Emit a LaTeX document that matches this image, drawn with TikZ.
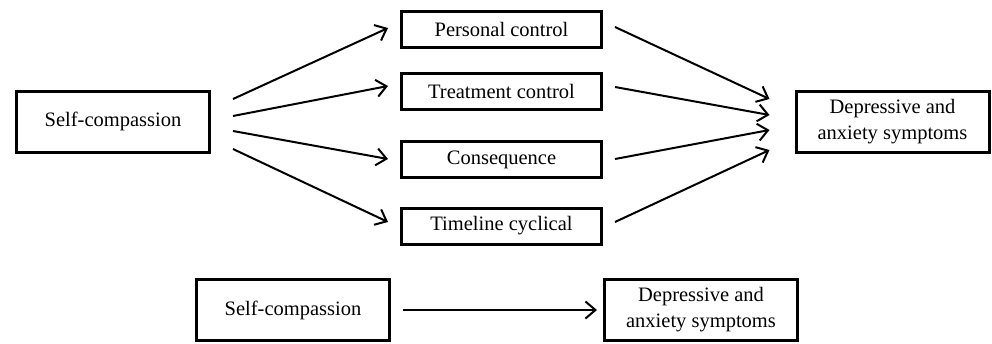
\documentclass[tikz,border=0pt]{standalone}
\usepackage{fontspec}
\setmainfont{Liberation Serif}
\usetikzlibrary{arrows.meta,calc}
\begin{document}
\begin{tikzpicture}[x=1pt,y=-1pt,
  box/.style={draw,line width=3pt,inner sep=0pt,align=center,font=\fontsize{20.5}{26}\selectfont},
  bigbox/.style={box,minimum width=193pt,minimum height=61pt},
  midbox/.style={box,minimum width=200pt,minimum height=36pt},
  arr/.style={line width=2pt,-{Straight Barb[length=10pt,width=17pt,line width=2pt]}}]
\useasboundingbox (0,0) rectangle (992,343);
\node[bigbox] (sc) at (113,121.5) {Self-compassion};
\node[midbox] (pc) at (501.5,29) {Personal control};
\node[midbox] (tc) at (501.5,91) {Treatment control};
\node[midbox] (co) at (501.5,159.5) {Consequence};
\node[midbox] (tl) at (501.5,226) {Timeline cyclical};
\node[bigbox] (dep) at (892.5,122) {Depressive and\\anxiety symptoms};
\node[bigbox] (sc2) at (293,310) {Self-compassion};
\node[bigbox] (dep2) at (701,310) {Depressive and\\anxiety symptoms};
\draw[arr] ($(sc.east)+(22,-22.5)$) -- ($(pc.west)+(-12,-1)$);
\draw[arr] ($(sc.east)+(22,-5.5)$) -- ($(tc.west)+(-12,-5)$);
\draw[arr] ($(sc.east)+(22,9.5)$) -- ($(co.west)+(-12,-0.5)$);
\draw[arr] ($(sc.east)+(22,27.5)$) -- ($(tl.west)+(-12,-4)$);
\draw[arr] ($(pc.east)+(12,-2)$) -- ($(dep.west)+(-25,-23)$);
\draw[arr] ($(tc.east)+(12,-4)$) -- ($(dep.west)+(-25,-7)$);
\draw[arr] ($(co.east)+(12,-0.5)$) -- ($(dep.west)+(-25,8)$);
\draw[arr] ($(tl.east)+(12,-4)$) -- ($(dep.west)+(-25,28)$);
\draw[arr] ($(sc2.east)+(12,0)$) -- ($(dep2.west)+(-6,0)$);
\end{tikzpicture}
\end{document}
